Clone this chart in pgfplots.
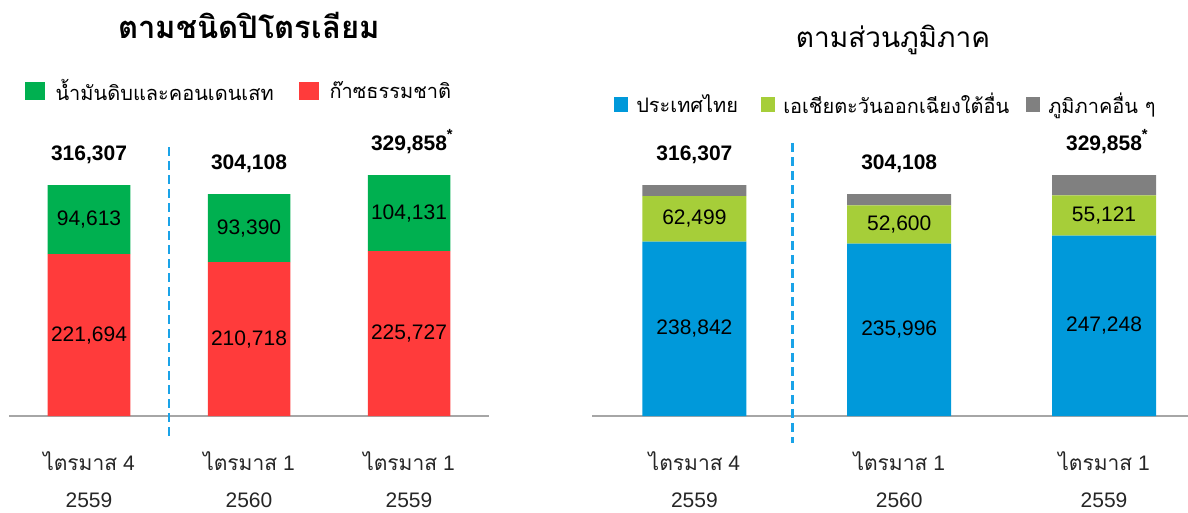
\documentclass[border=0pt]{standalone}
\usepackage{pgfplots}
\pgfplotsset{compat=1.18}
\usepackage{fontspec}
\setmainfont{Liberation Sans}
\newfontfamily\thaifont[Script=Thai]{Loma}
\definecolor{cgreen}{HTML}{00B050}
\definecolor{cred}{HTML}{FF3B3B}
\definecolor{cblue}{HTML}{0099DA}
\definecolor{clime}{HTML}{A6CE39}
\definecolor{cgrey}{HTML}{808080}
\definecolor{cdash}{HTML}{1AA3E8}
\definecolor{caxis}{HTML}{A6A6A6}
\pgfplotsset{
  common/.style={
    scale only axis, ybar stacked, ymin=0, ymax=400000, height=292pt,
    axis x line=bottom, axis y line=none,
    x axis line style={caxis, line width=1.5pt, -},
    xtick={0,1,2}, major tick length=0pt,
    xticklabels={{{\thaifont ไตรมาส} 4\\2559},{{\thaifont ไตรมาส} 1\\2560},{{\thaifont ไตรมาส} 1\\2559}},
    xticklabel style={align=center, font=\fontsize{21}{37}\selectfont, anchor=north, yshift=-32pt, text=black!85},
    clip=false,
    legend style={draw=none, fill=none, legend columns=-1, inner sep=0pt,
      nodes={inner sep=0pt, anchor=west},
      font=\thaifont\fontsize{20}{24}\selectfont},
  },
  over/.style={
    scale only axis, ymin=0, ymax=400000, height=292pt,
    hide axis, clip=false,
  },
}
\tikzset{
  lab/.style={font=\fontsize{21}{24}\selectfont, text=black},
  tot/.style={font=\bfseries\fontsize{21}{24}\selectfont, anchor=base, yshift=25pt},
}
\begin{document}
\begin{tikzpicture}[x=1pt,y=1pt]
\useasboundingbox (0,0) rectangle (1188,512);
% ---------- left panel ----------
\begin{axis}[common, at={(9pt,96pt)}, anchor=south west, width=480pt,
  xmin=-0.5, xmax=2.5, bar width=82.5pt,
  reverse legend,
  legend style={at={(0.033,1.113)}, anchor=west,
    /tikz/every odd column/.append style={column sep=10.5pt}},
  legend image code/.code={\fill[#1] (0pt,-9pt) rectangle (20pt,9pt);},
]
\addplot[fill=cred, draw=none] coordinates {(0,221694) (1,210718) (2,225727)};
\addlegendentry{ก๊าซธรรมชาติ}
\addplot[fill=cgreen, draw=none] coordinates {(0,94613) (1,93390) (2,104131)};
\addlegendentry{\makebox[243.5pt][l]{น้ำมันดิบและคอนเดนเสท}}
\end{axis}
\begin{axis}[over, at={(9pt,96pt)}, anchor=south west, width=480pt,
  xmin=-0.5, xmax=2.5]
\node[lab] at (axis cs:0,110847) {221,694};
\node[lab] at (axis cs:1,105359) {210,718};
\node[lab] at (axis cs:2,112864) {225,727};
\node[lab] at (axis cs:0,269000) {94,613};
\node[lab] at (axis cs:1,257413) {93,390};
\node[lab] at (axis cs:2,277792) {104,131};
\node[tot] at (axis cs:0,316307) {316,307};
\node[tot] at (axis cs:1,304108) {304,108};
\node[tot] at (axis cs:2,329858) {329,858\rlap{\raisebox{3pt}{\textsuperscript{*}}}};
\draw[cdash, line width=2.5pt, dash pattern=on 9pt off 5pt] (axis cs:0.5,368000) -- (axis cs:0.5,-34000);
\node[font=\thaifont\bfseries\fontsize{31}{34}\selectfont] at (rel axis cs:0.5,1.339) {ตามชนิดปิโตรเลียม};
\end{axis}
% ---------- right panel ----------
\begin{axis}[common, at={(592pt,96pt)}, anchor=south west, width=596pt,
  xmin=-0.5, xmax=2.41, bar width=104pt,
  legend style={at={(0.037,1.068)}, anchor=west,
    /tikz/every odd column/.append style={column sep=8pt}},
  legend image code/.code={\fill[#1] (0pt,-7.5pt) rectangle (14pt,7.5pt);},
]
\addplot[fill=cblue, draw=none] coordinates {(0,238842) (1,235996) (2,247248)};
\addlegendentry{\makebox[125pt][l]{ประเทศไทย}}
\addplot[fill=clime, draw=none] coordinates {(0,62499) (1,52600) (2,55121)};
\addlegendentry{\makebox[243pt][l]{เอเชียตะวันออกเฉียงใต้อื่น}}
\addplot[fill=cgrey, draw=none] coordinates {(0,14966) (1,15512) (2,27489)};
\addlegendentry{ภูมิภาคอื่น ๆ}
\end{axis}
\begin{axis}[over, at={(592pt,96pt)}, anchor=south west, width=596pt,
  xmin=-0.5, xmax=2.41]
\node[lab] at (axis cs:0,119421) {238,842};
\node[lab] at (axis cs:1,117998) {235,996};
\node[lab] at (axis cs:2,123624) {247,248};
\node[lab] at (axis cs:0,270092) {62,499};
\node[lab] at (axis cs:1,262296) {52,600};
\node[lab] at (axis cs:2,274808) {55,121};
\node[tot] at (axis cs:0,316307) {316,307};
\node[tot] at (axis cs:1,304108) {304,108};
\node[tot] at (axis cs:2,329858) {329,858\rlap{\raisebox{3pt}{\textsuperscript{*}}}};
\draw[cdash, line width=2.5pt, dash pattern=on 9pt off 5pt] (axis cs:0.48,374000) -- (axis cs:0.48,-37000);
\node[font=\thaifont\fontsize{28}{32}\selectfont] at (rel axis cs:0.505,1.288) {ตามส่วนภูมิภาค};
\end{axis}
\end{tikzpicture}
\end{document}
